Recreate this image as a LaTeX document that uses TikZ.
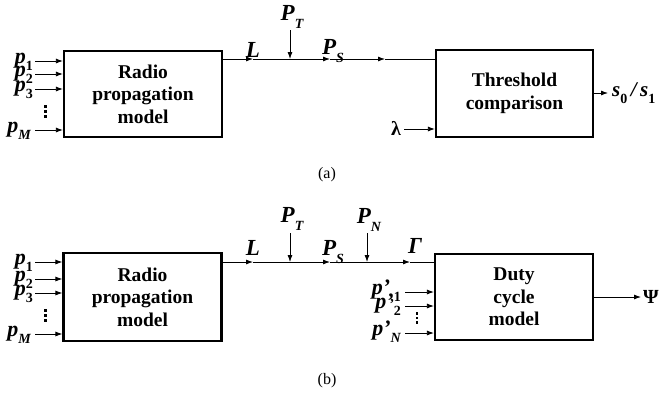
\documentclass[tikz,border=0pt]{standalone}
\usepackage{fontspec}
\setmainfont{Liberation Serif}
\usetikzlibrary{arrows.meta}
\newcommand{\mysub}[1]{\raisebox{-0.36em}{\fontsize{14}{14}\selectfont #1}}
\newcommand{\mysubu}[1]{\raisebox{-0.36em}{\fontsize{14}{14}\selectfont\upshape #1}}
\begin{document}
\begin{tikzpicture}[x=1pt,y=-1pt,
  box/.style={draw, line width=2.2pt, minimum width=158pt, minimum height=86pt,
    inner sep=0pt, align=center, font=\fontsize{19.5}{22.5}\selectfont\bfseries},
  conn/.style={line width=0.8pt, -{Latex[length=7pt,width=5pt]}},
  wire/.style={line width=0.8pt},
  sym/.style={inner sep=0pt, anchor=base, font=\fontsize{23}{26}\selectfont\bfseries\itshape},
  inlab/.style={inner sep=0pt, anchor=base east, font=\fontsize{22}{24}\selectfont\bfseries\itshape},
  caplab/.style={inner sep=0pt, font=\fontsize{16}{19}\selectfont}
]
\useasboundingbox (0,0) rectangle (660,397);

% ---------------- (a) ----------------
\node[box] (ra) at (143,94) {Radio\\propagation\\model};
\node[box, minimum width=157pt, minimum height=87pt] (th) at (514.5,93.5) {Threshold\\comparison};

\node[inlab] (lp1) at (33,63) {p\mysubu{1}};
\node[inlab] (lp2) at (33,76) {p\mysubu{2}};
\node[inlab] (lp3) at (33,91) {p\mysubu{3}};
\node[inlab] (lpM) at (31,132) {p\mysub{M}};
\coordinate (i1) at (35,61);
\coordinate (i2) at (35,74);
\coordinate (i3) at (35,89);
\coordinate (iM) at (35,130);
\draw[conn] (i1) -- (ra.west |- i1);
\draw[conn] (i2) -- (ra.west |- i2);
\draw[conn] (i3) -- (ra.west |- i3);
\draw[conn] (iM) -- (ra.west |- iM);
\fill (44.3,104.5) rectangle ++(3,3);
\fill (44.3,109.5) rectangle ++(3,3);
\fill (44.3,114.5) rectangle ++(3,3);

\coordinate (s0) at (ra.east |- 0,59);
\coordinate (a1) at (253,59);
\coordinate (j1) at (290,59);
\coordinate (a2) at (330,59);
\coordinate (a3) at (385,59);
\coordinate (e0) at (th.west |- 0,59);
\draw[conn] (s0) -- (a1);
\draw[wire] (a1) -- (j1);
\draw[conn] (j1) -- (a2);
\draw[conn] (a2) -- (a3);
\draw[wire] (a3) -- (e0);

\node[sym] (L) at (253,57) {L};
\node[sym] (PT) at (292,20) {P\mysub{T}};
\node[sym] (PS) at (333,54) {P\mysub{S}};
\coordinate (pt0) at (290,30);
\draw[conn] (pt0) -- (j1);

\node[inner sep=0pt, font=\fontsize{20}{22}\selectfont\bfseries] (lam) at (396,128) {λ};
\coordinate (li) at (404,129);
\draw[conn] (li) -- (th.west |- li);

\coordinate (so) at (th.east |- 0,93);
\coordinate (sx) at (608,93);
\draw[conn] (so) -- (sx);
\node[inner sep=0pt, anchor=west, font=\fontsize{21}{24}\selectfont\bfseries\itshape] (out) at (612,93) {s\mysubu{0}\,/\,s\mysubu{1}};

\node[caplab] (capa) at (327,175) {(a)};

% ---------------- (b) ----------------
\node[box, minimum height=88pt] (rb) at (142.5,297) {Radio\\propagation\\model};
\node[box] (dc) at (514,297) {Duty\\cycle\\model};

\node[inlab] (mp1) at (33,264) {p\mysubu{1}};
\node[inlab] (mp2) at (33,281) {p\mysubu{2}};
\node[inlab] (mp3) at (33,295) {p\mysubu{3}};
\node[inlab] (mpM) at (31,336) {p\mysub{M}};
\coordinate (k1) at (35,262);
\coordinate (k2) at (35,279);
\coordinate (k3) at (35,293);
\coordinate (kM) at (35,334);
\draw[conn] (k1) -- (rb.west |- k1);
\draw[conn] (k2) -- (rb.west |- k2);
\draw[conn] (k3) -- (rb.west |- k3);
\draw[conn] (kM) -- (rb.west |- kM);
\fill (44.3,308.5) rectangle ++(3,3);
\fill (44.3,313.5) rectangle ++(3,3);
\fill (44.3,318.5) rectangle ++(3,3);

\coordinate (t0) at (rb.east |- 0,262);
\coordinate (b1) at (253,262);
\coordinate (h1) at (290,262);
\coordinate (b2) at (330,262);
\coordinate (h2) at (367,262);
\coordinate (b3) at (410,262);
\coordinate (f0) at (dc.west |- 0,262);
\draw[conn] (t0) -- (b1);
\draw[wire] (b1) -- (h1);
\draw[conn] (h1) -- (b2);
\draw[wire] (b2) -- (h2);
\draw[conn] (h2) -- (b3);
\draw[wire] (b3) -- (f0);

\node[sym] (L2) at (253,255) {L};
\node[sym] (PT2) at (292,222) {P\mysub{T}};
\node[sym] (PS2) at (333,255) {P\mysub{S}};
\node[sym] (PN2) at (369,223) {P\mysub{N}};
\node[sym] (G2) at (415,253) {Γ};
\coordinate (pt1) at (290,233);
\coordinate (pn1) at (367,233);
\draw[conn] (pt1) -- (h1);
\draw[conn] (pn1) -- (h2);

\node[inlab] (q1) at (401,294) {p’\mysubu{,1}};
\node[inlab] (q2) at (401,308) {p’\mysubu{2}};
\node[inlab] (qN) at (401,335) {p’\mysub{N}};
\coordinate (r1) at (405,292);
\coordinate (r2) at (405,306);
\coordinate (rN) at (405,333);
\draw[conn] (r1) -- (dc.west |- r1);
\draw[conn] (r2) -- (dc.west |- r2);
\draw[conn] (rN) -- (dc.west |- rN);
\fill (415.5,312) rectangle ++(2.6,2.6);
\fill (415.5,316.5) rectangle ++(2.6,2.6);
\fill (415.5,321) rectangle ++(2.6,2.6);

\coordinate (u0) at (dc.east |- 0,297);
\coordinate (ux) at (641,297);
\draw[conn] (u0) -- (ux);
\node[inner sep=0pt, font=\fontsize{20}{24}\selectfont\bfseries] (psi) at (651,297) {Ψ};

\node[caplab] (capb) at (327,381) {(b)};
\end{tikzpicture}
\end{document}
